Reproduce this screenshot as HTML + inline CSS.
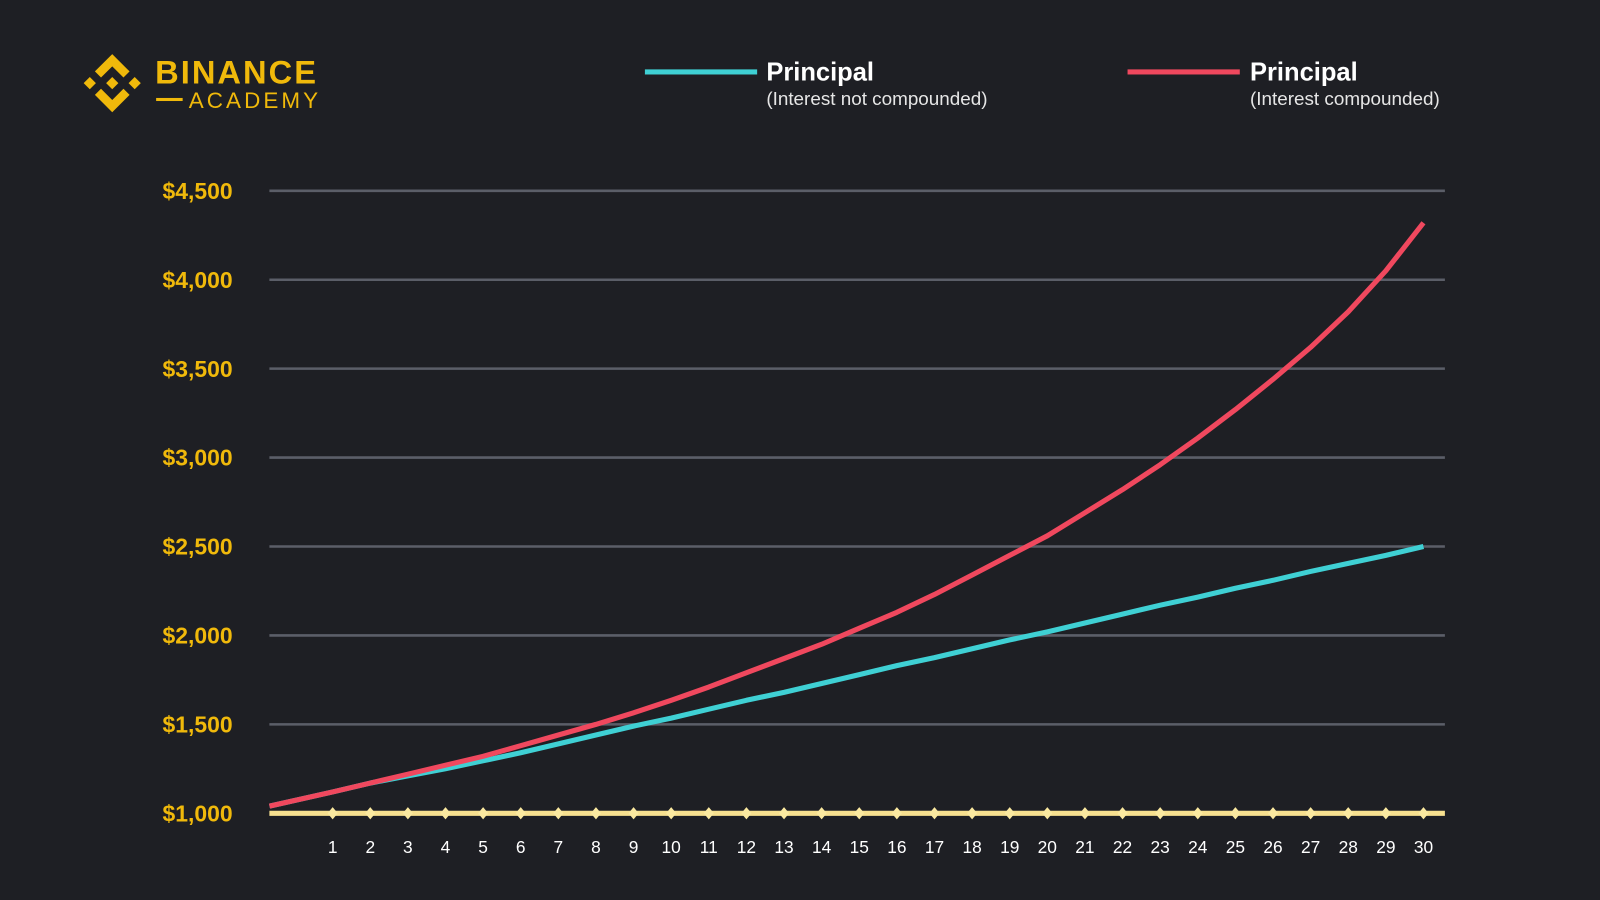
<!DOCTYPE html>
<html><head><meta charset="utf-8"><style>
html,body{margin:0;padding:0;background:#1e1f24;width:1600px;height:900px;overflow:hidden}
svg{display:block}
text{font-family:"Liberation Sans",sans-serif}
</style></head><body>
<svg id="chart" width="1600" height="900" viewBox="0 0 1568 882" preserveAspectRatio="none" xmlns="http://www.w3.org/2000/svg">
<rect width="1568" height="882" fill="#1e1f24"/>
<g fill="#f0b90b">
  <polygon points="110,53 127,70 121,76 110,65 99,76 93,70"/>
  <polygon points="110,110 127,93 121,87 110,98 99,87 93,93"/>
  <polygon points="82,81.5 88,75.5 94,81.5 88,87.5"/>
  <polygon points="126,81.5 132,75.5 138,81.5 132,87.5"/>
  <polygon points="104,81.5 110,75.5 116,81.5 110,87.5"/>
  <text x="152" y="82" font-size="32" font-weight="bold" fill="#f0b90b" letter-spacing="2">BINANCE</text>
  <rect x="153" y="96" width="26" height="3"/>
  <text x="185" y="106" font-size="22" fill="#f0b90b" letter-spacing="3">ACADEMY</text>
</g>
<g>
  <g>
    <rect x="632" y="68" width="110" height="5" fill="#3fd0d4"/>
    <text x="751" y="79" font-size="25" font-weight="bold" fill="#fff">Principal</text>
    <text x="751" y="103" font-size="18.5" fill="#e6e6e6">(Interest not compounded)</text>
  </g>
  <g>
    <rect x="1105" y="68" width="110" height="5" fill="#f0485e"/>
    <text x="1225" y="79" font-size="25" font-weight="bold" fill="#fff">Principal</text>
    <text x="1225" y="103" font-size="18.5" fill="#e6e6e6">(Interest compounded)</text>
  </g>
</g>
<g id="grid"></g>
<g id="yaxis"></g>
<g id="xaxis"></g>
<g id="series"></g>
</svg>
<script>
const years=[-0.68,1,2,3,4,5,6,7,8,9,10,11,12,13,14,15,16,17,18,19,20,21,22,23,24,25,26,27,28,29,30];
const simpleValues=[1040,1120,1170,1210,1250,1295,1340,1390,1440,1490,1535,1585,1635,1680,1730,1780,1830,1875,1925,1975,2020,2070,2120,2170,2215,2265,2310,2360,2405,2450,2500];
const compoundValues=[1040,1120,1170,1220,1270,1320,1380,1440,1500,1565,1635,1710,1790,1870,1950,2040,2130,2230,2340,2450,2560,2690,2820,2960,3110,3270,3440,3620,3820,4050,4320];
const yTicks=[1000,1500,2000,2500,3000,3500,4000,4500];
const yTickLabels=["$1,000","$1,500","$2,000","$2,500","$3,000","$3,500","$4,000","$4,500"];
const xTickLabels=["1","2","3","4","5","6","7","8","9","10","11","12","13","14","15","16","17","18","19","20","21","22","23","24","25","26","27","28","29","30"];
const NS="http://www.w3.org/2000/svg";
function yScale(v){return 797-(v-1000)*(610/3500);}
function xScale(t){return 326+(t-1)*(1395-326)/29;}
function xTick(i){return 326+i*(1395-326)/29;}
function mk(tag,attrs,parent){const e=document.createElementNS(NS,tag);for(const k in attrs)e.setAttribute(k,attrs[k]);parent.appendChild(e);return e;}
const grid=document.getElementById('grid'),ya=document.getElementById('yaxis'),xa=document.getElementById('xaxis'),se=document.getElementById('series');
yTicks.forEach((v,i)=>{
  if(v>1000){const l=mk('line',{x1:264,x2:1416,y1:yScale(v),y2:yScale(v),stroke:'#5b5e68','stroke-width':2.5},grid);
  
  }
  const t=mk('text',{x:228,y:yScale(v)+8,'text-anchor':'end','font-size':22.5,'font-weight':'bold',fill:'#f0b90b'},ya);
  t.textContent=yTickLabels[i];
  
  
});
const base=mk('line',{x1:264,x2:1416,y1:797,y2:797,stroke:'#f7e08f','stroke-width':5},xa);


xTickLabels.forEach((lab,i)=>{
  const x=xTick(i);
  const d=mk('polygon',{points:`${x},791 ${x+5},797 ${x},803 ${x-5},797`,fill:'#fbe9a0'},xa);
  
  
  const t=mk('text',{x:x,y:836,'text-anchor':'middle','font-size':17,fill:'#fff'},xa);
  t.textContent=lab;
  
  
});
function path(vals){return vals.map((v,i)=>(i?'L':'M')+xScale(years[i]).toFixed(1)+','+yScale(v).toFixed(1)).join(' ');}
const p1=mk('path',{d:path(simpleValues),fill:'none',stroke:'#3fd0d4','stroke-width':5,'stroke-linejoin':'round'},se);


const p2=mk('path',{d:path(compoundValues),fill:'none',stroke:'#f0485e','stroke-width':5,'stroke-linejoin':'round'},se);


</script>
</body></html>
